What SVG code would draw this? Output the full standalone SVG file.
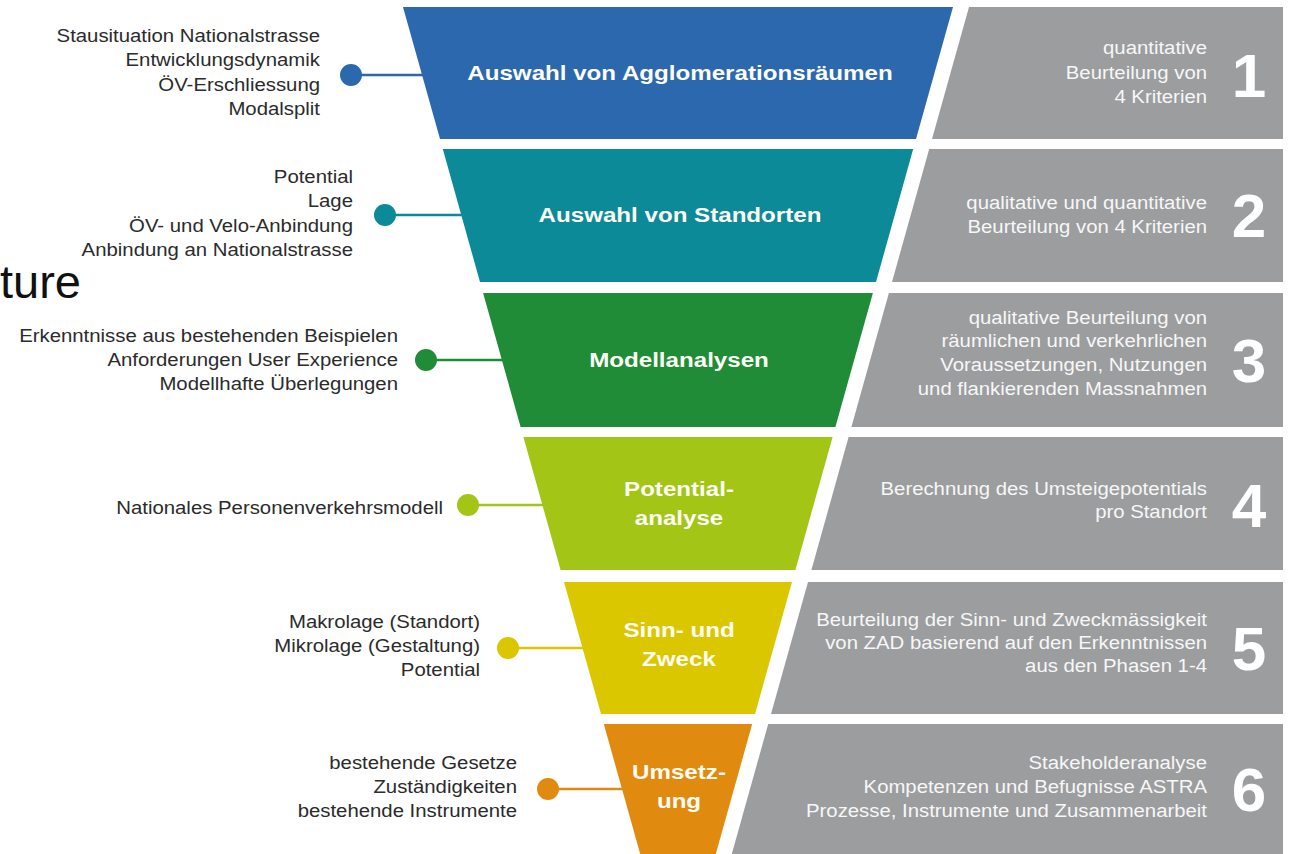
<svg xmlns="http://www.w3.org/2000/svg" width="1289" height="854" viewBox="0 0 1289 854">
<style>
text{font-family:"Liberation Sans",Arial,Helvetica,sans-serif}
.lbl{font-size:18.5px;fill:#2b2b2b;text-anchor:end}
.stg{font-size:21px;font-weight:bold;fill:#fdfdf6;text-anchor:middle}
.dsc{font-size:18px;fill:#f7f7f7;text-anchor:end}
.num{font-size:62px;font-weight:bold;fill:#ffffff;text-anchor:middle}
.panel{fill:#9c9d9f}
.con line{stroke-width:2.5}
</style>
<rect x="0" y="0" width="1289" height="854" fill="#ffffff"/>
<text x="0" y="298" style="font-size:47px;fill:#111111">ture</text>

<g id="connectors" class="con">
<g><line x1="351" y1="75" x2="430" y2="75" stroke="#2b68ae"/><circle cx="351" cy="75" r="11" fill="#2b68ae"/></g>
<g><line x1="385" y1="215" x2="470" y2="215" stroke="#0d8a98"/><circle cx="385" cy="215" r="11" fill="#0d8a98"/></g>
<g><line x1="426" y1="360" x2="510" y2="360" stroke="#208c38"/><circle cx="426" cy="360" r="11" fill="#208c38"/></g>
<g><line x1="468" y1="505" x2="550" y2="505" stroke="#a2c516"/><circle cx="468" cy="505" r="11" fill="#a2c516"/></g>
<g><line x1="508" y1="648" x2="590" y2="648" stroke="#dbc700"/><circle cx="508" cy="648" r="11" fill="#dbc700"/></g>
<g><line x1="548" y1="789" x2="630" y2="789" stroke="#e08b0f"/><circle cx="548" cy="789" r="11" fill="#e08b0f"/></g>
</g>

<g id="stage1">
<polygon points="403,7 953,7 916,139 440,139" fill="#2b68ae"/>
<g transform="translate(680 0) scale(1.15 1)"><text class="stg" x="0" y="80">Auswahl von Agglomerationsräumen</text></g>
<g transform="translate(320 0) scale(1.1 1)">
<text class="lbl" x="0" y="42">Stausituation Nationalstrasse</text>
<text class="lbl" x="0" y="66.5">Entwicklungsdynamik</text>
<text class="lbl" x="0" y="91">ÖV-Erschliessung</text>
<text class="lbl" x="0" y="115.5">Modalsplit</text>
</g>
<polygon class="panel" points="969,7 1283,7 1283,139 932,139"/>
<g transform="translate(1207 0) scale(1.13 1)">
<text class="dsc" x="0" y="54">quantitative</text>
<text class="dsc" x="0" y="79">Beurteilung von</text>
<text class="dsc" x="0" y="103">4 Kriterien</text>
</g>
<text class="num" x="1249" y="97">1</text>
</g>

<g id="stage2">
<polygon points="442.8,149 913.2,149 876,282 480,282" fill="#0d8a98"/>
<g transform="translate(680 0) scale(1.15 1)"><text class="stg" x="0" y="222">Auswahl von Standorten</text></g>
<g transform="translate(353 0) scale(1.1 1)">
<text class="lbl" x="0" y="183">Potential</text>
<text class="lbl" x="0" y="207">Lage</text>
<text class="lbl" x="0" y="232">ÖV- und Velo-Anbindung</text>
<text class="lbl" x="0" y="256">Anbindung an Nationalstrasse</text>
</g>
<polygon class="panel" points="929.2,149 1283,149 1283,282 892,282"/>
<g transform="translate(1207 0) scale(1.13 1)">
<text class="dsc" x="0" y="209">qualitative und quantitative</text>
<text class="dsc" x="0" y="233">Beurteilung von 4 Kriterien</text>
</g>
<text class="num" x="1249" y="237">2</text>
</g>

<g id="stage3">
<polygon points="483.1,293 872.9,293 835.4,427 520.6,427" fill="#208c38"/>
<g transform="translate(679 0) scale(1.15 1)"><text class="stg" x="0" y="367">Modellanalysen</text></g>
<g transform="translate(398 0) scale(1.1 1)">
<text class="lbl" x="0" y="342">Erkenntnisse aus bestehenden Beispielen</text>
<text class="lbl" x="0" y="366">Anforderungen User Experience</text>
<text class="lbl" x="0" y="390">Modellhafte Überlegungen</text>
</g>
<polygon class="panel" points="888.9,293 1283,293 1283,427 851.4,427"/>
<g transform="translate(1207 0) scale(1.13 1)">
<text class="dsc" x="0" y="324">qualitative Beurteilung von</text>
<text class="dsc" x="0" y="347">räumlichen und verkehrlichen</text>
<text class="dsc" x="0" y="371">Voraussetzungen, Nutzungen</text>
<text class="dsc" x="0" y="395">und flankierenden Massnahmen</text>
</g>
<text class="num" x="1249" y="382">3</text>
</g>

<g id="stage4">
<polygon points="523.4,437 832.6,437 795.4,570 560.6,570" fill="#a2c516"/>
<g transform="translate(679 0) scale(1.15 1)">
<text class="stg" x="0" y="496">Potential-</text>
<text class="stg" x="0" y="525">analyse</text>
</g>
<g transform="translate(443 0) scale(1.1 1)">
<text class="lbl" x="0" y="514">Nationales Personenverkehrsmodell</text>
</g>
<polygon class="panel" points="848.6,437 1283,437 1283,570 811.4,570"/>
<g transform="translate(1207 0) scale(1.13 1)">
<text class="dsc" x="0" y="495">Berechnung des Umsteigepotentials</text>
<text class="dsc" x="0" y="518">pro Standort</text>
</g>
<text class="num" x="1249" y="527">4</text>
</g>

<g id="stage5">
<polygon points="564,582 792,582 755,714 601,714" fill="#dbc700"/>
<g transform="translate(679 0) scale(1.15 1)">
<text class="stg" x="0" y="637">Sinn- und</text>
<text class="stg" x="0" y="666">Zweck</text>
</g>
<g transform="translate(480 0) scale(1.1 1)">
<text class="lbl" x="0" y="628">Makrolage (Standort)</text>
<text class="lbl" x="0" y="652">Mikrolage (Gestaltung)</text>
<text class="lbl" x="0" y="676">Potential</text>
</g>
<polygon class="panel" points="808,582 1283,582 1283,714 771,714"/>
<g transform="translate(1207 0) scale(1.13 1)">
<text class="dsc" x="0" y="626">Beurteilung der Sinn- und Zweckmässigkeit</text>
<text class="dsc" x="0" y="649">von ZAD basierend auf den Erkenntnissen</text>
<text class="dsc" x="0" y="672">aus den Phasen 1-4</text>
</g>
<text class="num" x="1249" y="670">5</text>
</g>

<g id="stage6">
<polygon points="603.8,724 752.2,724 715.8,854 640.2,854" fill="#e08b0f"/>
<g transform="translate(679 0) scale(1.15 1)">
<text class="stg" x="0" y="779">Umsetz-</text>
<text class="stg" x="0" y="808">ung</text>
</g>
<g transform="translate(517 0) scale(1.1 1)">
<text class="lbl" x="0" y="769">bestehende Gesetze</text>
<text class="lbl" x="0" y="793">Zuständigkeiten</text>
<text class="lbl" x="0" y="817">bestehende Instrumente</text>
</g>
<polygon class="panel" points="768.2,724 1283,724 1283,854 731.8,854"/>
<g transform="translate(1207 0) scale(1.13 1)">
<text class="dsc" x="0" y="769">Stakeholderanalyse</text>
<text class="dsc" x="0" y="793">Kompetenzen und Befugnisse ASTRA</text>
<text class="dsc" x="0" y="817">Prozesse, Instrumente und Zusammenarbeit</text>
</g>
<text class="num" x="1249" y="811">6</text>
</g>
</svg>
